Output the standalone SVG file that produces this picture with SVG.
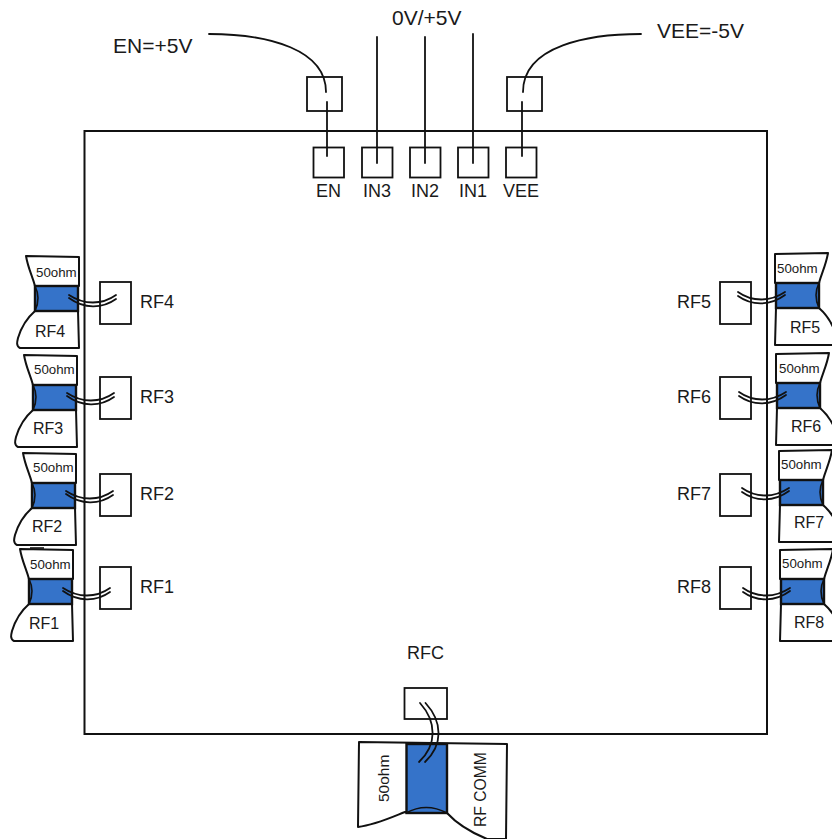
<svg xmlns="http://www.w3.org/2000/svg" width="832" height="839" viewBox="0 0 832 839">
<style>
text{font-family:"Liberation Sans",Arial,sans-serif;fill:#1a1a1a}
.s{fill:#fff;stroke:#111;stroke-width:2;stroke-linejoin:round}
.b{fill:#3573c9;stroke:#111;stroke-width:2.4}
.a{fill:none;stroke:#111;stroke-width:1.6}
.box{fill:#fff;stroke:#111;stroke-width:1.8}
.w{fill:none;stroke:#111;stroke-width:1.8;stroke-linecap:round}
.l{font-size:18px}
.o{font-size:13.300px}
.t{font-size:16px}
.h{font-size:21px}
</style>
<defs>
<g id="load">
<path class="s" d="M26,256L79,257L79,286L35,286C32,275 28,268 26,256Z"/>
<path class="s" d="M35,311L78,311L79,348L20,348C16,346 17,342 18,338C21,328 27,318 35,311Z"/>
<rect class="b" x="35" y="286" width="43" height="25"/>
<path class="a" d="M35,286Q41,298 35,311"/>
</g>
<g id="wire">
<path class="w" d="M69,295C84,305 102,305 116,295"/>
<path class="w" d="M69,298C84,309 102,309 116,299"/>
</g>
</defs>
<g id="chip"><rect x="84.500" y="131" width="682.500" height="603" fill="none" stroke="#111" stroke-width="2"/></g>
<g id="load-rf4"><use href="#load"/><text class="o" x="36" y="277">50ohm</text><text class="t" x="35" y="337">RF4</text></g>
<g id="load-rf3"><use href="#load" transform="translate(-2,99)"/><text class="o" x="34" y="374">50ohm</text><text class="t" x="33" y="434">RF3</text></g>
<g id="load-rf2"><use href="#load" transform="translate(-3,197)"/><text class="o" x="33" y="472">50ohm</text><text class="t" x="32" y="532">RF2</text></g>
<g id="load-rf1"><use href="#load" transform="translate(-6,293)"/><path class="a" d="M30,548L44,548"/><text class="o" x="30" y="569">50ohm</text><text class="t" x="29" y="629">RF1</text></g>
<g id="load-rf5"><use href="#load" transform="translate(854,-3) scale(-1,1)"/><text class="o" x="777" y="273">50ohm</text><text class="t" x="790" y="333">RF5</text></g>
<g id="load-rf6"><use href="#load" transform="translate(855,97) scale(-1,1)"/><text class="o" x="779" y="373">50ohm</text><text class="t" x="791" y="432">RF6</text></g>
<g id="load-rf7"><use href="#load" transform="translate(858,194) scale(-1,1)"/><text class="o" x="781" y="469">50ohm</text><text class="t" x="794" y="528">RF7</text></g>
<g id="load-rf8"><use href="#load" transform="translate(859,293) scale(-1,1)"/><text class="o" x="782" y="568">50ohm</text><text class="t" x="794" y="628">RF8</text></g>
<g id="load-rfc">
<path class="s" d="M359,742L507,744L506,839L487,839C470,832 458,825 447,813L405,812C390,818 375,825 358,827Z"/>
<rect class="b" x="406.500" y="744" width="40.500" height="69"/>
<path class="a" d="M406,813Q426,802 447,813"/>
<text class="t" style="font-size:15.500px" transform="translate(389,802) rotate(-90)">50ohm</text>
<text class="t" style="font-size:15.700px" transform="translate(486,827) rotate(-90)">RF COMM</text>
</g>
<g id="pin-en-ext"><rect class="box" x="307" y="77" width="35" height="34"/></g>
<g id="pin-vee-ext"><rect class="box" x="507" y="77" width="35" height="34"/></g>
<g id="pin-en"><rect class="box" x="313.500" y="147.500" width="30.500" height="30"/><text class="l" x="316" y="197">EN</text></g>
<g id="pin-in3"><rect class="box" x="362" y="147.500" width="30.500" height="30"/><text class="l" x="363" y="197">IN3</text></g>
<g id="pin-in2"><rect class="box" x="410" y="147.500" width="30.500" height="30"/><text class="l" x="411" y="197">IN2</text></g>
<g id="pin-in1"><rect class="box" x="458" y="147.500" width="30.500" height="30"/><text class="l" x="459" y="197">IN1</text></g>
<g id="pin-vee"><rect class="box" x="506" y="147.500" width="30.500" height="30"/><text class="l" x="503" y="197">VEE</text></g>
<g id="pin-rf4"><rect class="box" x="100" y="282" width="31" height="42"/><text class="l" x="140" y="308">RF4</text></g>
<g id="pin-rf3"><rect class="box" x="100" y="377" width="31" height="42"/><text class="l" x="140" y="403">RF3</text></g>
<g id="pin-rf2"><rect class="box" x="100" y="474" width="31" height="42"/><text class="l" x="140" y="500">RF2</text></g>
<g id="pin-rf1"><rect class="box" x="100" y="567" width="31" height="42"/><text class="l" x="140" y="593">RF1</text></g>
<g id="pin-rf5"><rect class="box" x="720" y="282" width="31" height="42"/><text class="l" x="677" y="308">RF5</text></g>
<g id="pin-rf6"><rect class="box" x="720" y="377" width="31" height="42"/><text class="l" x="677" y="403">RF6</text></g>
<g id="pin-rf7"><rect class="box" x="720" y="474" width="31" height="42"/><text class="l" x="677" y="500">RF7</text></g>
<g id="pin-rf8"><rect class="box" x="720" y="567" width="31" height="42"/><text class="l" x="677" y="593">RF8</text></g>
<g id="pin-rfc"><rect class="box" x="404.500" y="688" width="42.500" height="31"/><text class="l" x="407" y="659">RFC</text></g>
<g id="supply-labels">
<text class="h" x="113" y="53">EN=+5V</text>
<text class="h" x="392" y="25">0V/+5V</text>
<text class="h" x="657" y="38">VEE=-5V</text>
</g>
<g id="connectors">
<path class="w" d="M327,102V156"/>
<path class="w" d="M377,37V163"/>
<path class="w" d="M425,37V163"/>
<path class="w" d="M473,34V163"/>
<path class="w" d="M522,102V156"/>
<path class="w" d="M209,34C270,34 326,50 326,92"/>
<path class="w" d="M641,34C590,34 523,45 523,92"/>
<use href="#wire"/>
<use href="#wire" transform="translate(-2,98)"/>
<use href="#wire" transform="translate(-3,196)"/>
<use href="#wire" transform="translate(-6,293)"/>
<use href="#wire" transform="translate(854,-3) scale(-1,1)"/>
<use href="#wire" transform="translate(855,97) scale(-1,1)"/>
<use href="#wire" transform="translate(858,193) scale(-1,1)"/>
<use href="#wire" transform="translate(859,293) scale(-1,1)"/>
<path class="w" d="M420,703C437,722 437,745 419,762"/>
<path class="w" d="M425.500,703C443,722 443,745 425,762"/>
</g>
</svg>
